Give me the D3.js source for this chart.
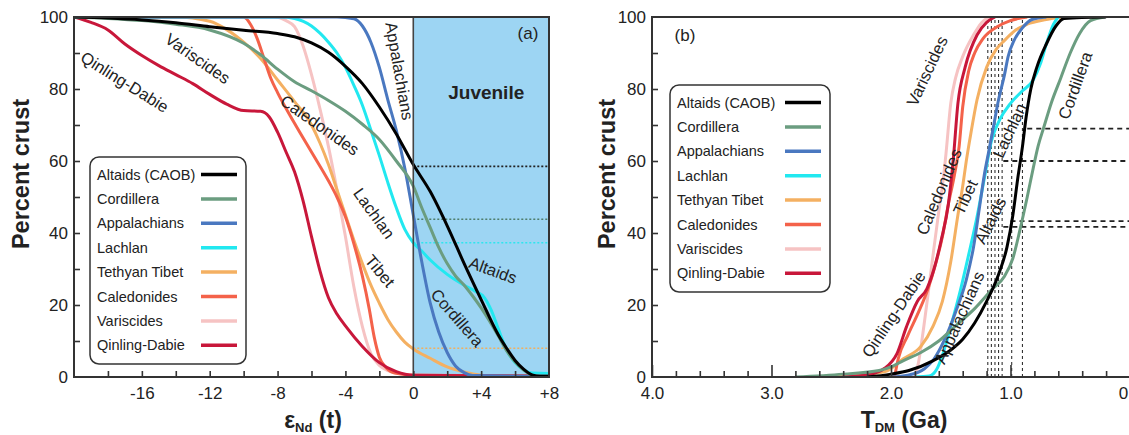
<!DOCTYPE html>
<html>
<head>
<meta charset="utf-8">
<script src="https://cdnjs.cloudflare.com/ajax/libs/d3/7.8.5/d3.min.js"></script>
<style>
  body { margin: 0; background: #fff; }
  text { font-family: "Liberation Sans", Arial, sans-serif; fill: #222; }
</style>
</head>
<body>
<script>
// series, in legend order
const names = ["Altaids (CAOB)", "Cordillera", "Appalachians", "Lachlan", "Tethyan Tibet", "Caledonides", "Variscides", "Qinling-Dabie"];
const colors = ["#000000", "#6b9d80", "#4a78c0", "#22e8f0", "#f4b062", "#f4624a", "#f6c3c3", "#c8173a"];

// panel (a): [eNd(t), percent crust]
const epsAltaids = [[-20,100],[-18,99.7],[-16,99.2],[-14,98.4],[-12,97.3],[-10,96.3],[-8,95.4],[-7,94.5],[-6,92.8],[-5,90.2],[-4,86.3],[-3,81.5],[-2,75],[-1,67.5],[0,59],[1,51.5],[2,42],[3,31.5],[4,21.5],[5,11.8],[5.5,8],[6,4.6],[6.5,2.2],[7,0.6],[7.5,0.2],[8,0.2]];
const epsCordillera = [[-20,100],[-18,99.6],[-16,99],[-14,98],[-12,96.4],[-10,92.7],[-9,89.5],[-8,85.5],[-7,82],[-6,79.5],[-5,76.8],[-4,73.8],[-3,70.2],[-2,66],[-1,60],[0,53],[0.5,47],[1,41.5],[1.5,36],[2,31.5],[2.5,28],[3,25.5],[3.5,22.5],[4,19.2],[4.5,15.5],[5,11.5],[5.5,7.3],[6,4.2],[6.5,1.9],[7,0.5],[7.3,0.2],[8,0.2]];
const epsAppalachians = [[-20,100],[-4.5,100],[-3.5,99.5],[-3,97.5],[-2.5,93],[-2,86],[-1.5,77],[-1,68.5],[-0.5,58],[0,45],[0.5,32],[1,20.5],[1.5,12.5],[2,6.8],[2.5,3],[3,1.2],[3.5,0.4],[8,0.2]];
const epsLachlan = [[-20,100],[-7.8,100],[-7,99.6],[-6,97.5],[-5.5,95.5],[-5,93],[-4.5,90],[-4,86],[-3.5,81],[-3,75.5],[-2.5,68.6],[-2,61.5],[-1.5,54],[-1,47],[-0.5,41],[0,37.3],[0.5,35],[1,32.5],[2,28.5],[3,25.5],[3.6,24],[4.2,22],[4.6,18.5],[5,13.5],[5.5,7.5],[6,4],[6.5,2],[7,1.1],[8,1]];
const epsTibet = [[-20,100],[-14,100],[-12,98.8],[-11,96.5],[-10,93],[-9,88.5],[-8,82.5],[-7,76.5],[-6,70],[-5.5,65],[-5,59],[-4.5,52],[-4,45],[-3.5,38],[-3,31.5],[-2.5,25.5],[-2,20.5],[-1.5,16],[-1,12.5],[-0.5,9.7],[0,7.8],[1,5.2],[2,2.8],[3,1.4],[4,0.5],[5,0.2],[8,0.2]];
const epsCaledonides = [[-20,100],[-10,100],[-9.6,98],[-9.2,94],[-8.8,88.5],[-8.4,83],[-8,79],[-7,70.5],[-6,62.5],[-5,54.5],[-4.5,50],[-4,44.5],[-3.5,37],[-3,28],[-2.6,19],[-2.3,11],[-2,5.5],[-1.6,2.6],[-1,1],[0,0.5],[8,0.3]];
const epsVariscides = [[-20,100],[-8.2,100],[-7.5,99],[-7,97.3],[-6.5,92],[-6,84],[-5.5,74.5],[-5,64],[-4.5,52],[-4,39],[-3.5,25],[-3,14],[-2.5,6.5],[-2,3.2],[-1.5,1.8],[-1,1],[0,0.5],[8,0.3]];
const epsQinling = [[-20,100],[-19,98.5],[-18,96.4],[-17,92.5],[-16,89.3],[-15,86.5],[-14,84],[-13,81.5],[-12,78.5],[-11,75.8],[-10,74],[-9,73.8],[-8.5,72.3],[-8,68],[-7.5,62.5],[-7,57],[-6.5,49],[-6,39],[-5.5,29.5],[-5,22],[-4.5,17.5],[-4,14.2],[-3,8.5],[-2,4],[-1,1.5],[0,0.5],[8,0.2]];

// panel (b): [T_DM in Ga, percent crust]
const tdmAltaids = [[2.2,0],[2.0,0.8],[1.85,1.8],[1.65,4.5],[1.5,7.5],[1.4,10.5],[1.3,15],[1.2,21],[1.1,28.5],[1.03,36],[0.98,45],[0.94,55],[0.9,64],[0.87,72],[0.83,80],[0.78,86],[0.7,92.5],[0.62,97.5],[0.55,99.6],[0.2,100]];
const tdmCordillera = [[2.8,0],[2.4,0.8],[2.1,1.8],[2.0,2.8],[1.9,4.5],[1.75,6.8],[1.6,10],[1.45,14.5],[1.3,19],[1.15,24.5],[1.05,28],[0.98,33],[0.92,41],[0.86,50],[0.81,58],[0.77,64],[0.72,69.5],[0.66,76],[0.58,83],[0.5,90],[0.42,95.5],[0.33,99],[0.21,100]];
const tdmAppalachians = [[2.0,0],[1.86,0.5],[1.72,2.3],[1.64,5],[1.55,10.5],[1.46,18],[1.37,27],[1.31,36],[1.26,47],[1.22,56],[1.18,63],[1.14,70],[1.1,77],[1.05,84],[1.02,89],[0.97,93.5],[0.9,97],[0.82,99.3],[0.7,100]];
const tdmLachlan = [[1.8,0],[1.68,0.3],[1.62,2],[1.57,6],[1.5,14],[1.42,24],[1.35,34],[1.28,44.5],[1.22,55],[1.16,65.5],[1.09,71.5],[1.0,76],[0.9,79.5],[0.81,82.5],[0.75,87],[0.7,92.5],[0.64,98],[0.6,100]];
const tdmTibet = [[2.62,0],[2.3,0.5],[2.05,1.5],[1.9,5],[1.75,8.5],[1.65,14],[1.57,21],[1.5,32],[1.44,45],[1.4,53],[1.37,60],[1.33,68],[1.28,77],[1.2,86],[1.12,91],[1.05,93.5],[0.95,96.5],[0.86,98],[0.7,99.3],[0.57,100]];
const tdmCaledonides = [[1.97,0],[1.94,5],[1.86,11.5],[1.77,18],[1.69,24.5],[1.63,31],[1.57,39],[1.52,48],[1.47,56],[1.43,64],[1.4,75],[1.35,85],[1.3,90],[1.23,94],[1.1,97.5],[1.0,99],[0.86,100]];
const tdmVariscides = [[1.8,0],[1.77,4],[1.74,10.5],[1.69,23],[1.64,36],[1.6,46],[1.57,53],[1.54,62],[1.5,76],[1.46,83],[1.4,89],[1.31,95],[1.24,98.5],[1.18,100]];
const tdmQinling = [[2.41,0],[2.2,0.6],[2.05,2.5],[1.95,6.5],[1.87,14],[1.78,21],[1.7,24.5],[1.64,30],[1.58,38],[1.52,48],[1.48,60],[1.44,76],[1.38,86],[1.28,95],[1.2,98.5],[1.13,100]];

const epsSeries = [epsAltaids, epsCordillera, epsAppalachians, epsLachlan, epsTibet, epsCaledonides, epsVariscides, epsQinling];
const tdmSeries = [tdmAltaids, tdmCordillera, tdmAppalachians, tdmLachlan, tdmTibet, tdmCaledonides, tdmVariscides, tdmQinling];
const drawOrder = [6, 4, 5, 7, 3, 2, 1, 0];

// reference levels
const juvenileLevels = [58.5, 43.8, 37.3, 8];
const juvenileLevelColors = ["#222", "#4f7d6c", "#2ee6ee", "#f0b060"];
const tdmMarks = [1.19, 1.16, 1.13, 1.1, 1.07, 0.99, 0.9];
const tdmLevels = [[69, 0.86], [60, 1.06], [43.3, 1.0], [41.7, 1.06]];

// curve labels: [text, x value, percent, angle]
const epsLabels = [["Qinling-Dabie", -17, 82, 32], ["Variscides", -12.7, 88.5, 35], ["Caledonides", -5.5, 70, 35],
  ["Appalachians", -0.8, 85, 80], ["Lachlan", -2.3, 45.5, 54], ["Tibet", -1.95, 29.5, 50],
  ["Altaids", 4.7, 29.7, 20], ["Cordillera", 2.6, 16.5, 49]];
const tdmLabels = [["Variscides", 1.7, 85, -65], ["Cordillera", 0.46, 81, -70], ["Lachlan", 1.01, 68.5, -65],
  ["Altaids", 1.17, 43.5, -63], ["Tibet", 1.38, 50, -65], ["Caledonides", 1.6, 51.5, -67],
  ["Appalachians", 1.43, 16.5, -66], ["Qinling-Dabie", 1.98, 17.5, -56]];

const W = 1129, H = 435;
const svg = d3.select("body").append("svg").attr("width", W).attr("height", H);

const yS = d3.scaleLinear().domain([0, 100]).range([377, 17]);
const xA = d3.scaleLinear().domain([-20, 8]).range([74, 549]);
const xB = d3.scaleLinear().domain([4, 0]).range([652, 1130]);

const defs = svg.append("defs");
defs.append("clipPath").attr("id", "clipA").append("rect")
  .attr("x", xA(-20)).attr("y", yS(100)).attr("width", xA(8) - xA(-20)).attr("height", yS(0) - yS(100));
defs.append("clipPath").attr("id", "clipB").append("rect")
  .attr("x", xB(4)).attr("y", yS(100)).attr("width", W - xB(4)).attr("height", yS(0) - yS(100));

function drawCurves(g, series, x) {
  const line = d3.line().x(d => x(d[0])).y(d => yS(d[1])).curve(d3.curveMonotoneX);
  drawOrder.forEach(i => {
    g.append("path").attr("d", line(series[i])).attr("fill", "none")
      .attr("stroke", colors[i]).attr("stroke-width", 3).attr("stroke-linejoin", "round");
  });
}

function drawLabels(g, labels, x) {
  labels.forEach(l => {
    g.append("text").attr("transform", `translate(${x(l[1])},${yS(l[2])}) rotate(${l[3]})`)
      .attr("text-anchor", "middle").attr("dominant-baseline", "central")
      .style("font-size", "16.5px").text(l[0]);
  });
}

function drawLegend(g, x0, y0, w) {
  g.append("rect").attr("x", x0).attr("y", y0).attr("width", w).attr("height", 207)
    .attr("rx", 9).attr("fill", "#fff").attr("stroke", "#333").attr("stroke-width", 1.5);
  names.forEach((n, i) => {
    const y = y0 + 17.5 + i * 24.4;
    g.append("text").attr("x", x0 + 7).attr("y", y).attr("dominant-baseline", "central")
      .style("font-size", "14.5px").text(n);
    g.append("line").attr("x1", x0 + w - 45).attr("x2", x0 + w - 9).attr("y1", y).attr("y2", y)
      .attr("stroke", colors[i]).attr("stroke-width", 3.5);
  });
}

function styleAxis(g) {
  g.select(".domain").remove();
  g.selectAll(".tick line").attr("stroke", "#333").attr("stroke-width", 1.6);
  g.selectAll(".tick text").style("font-size", "17px").attr("fill", "#222");
}

// ---------- panel (a)
const gA = svg.append("g");
gA.append("rect").attr("x", xA(0)).attr("y", yS(100)).attr("width", xA(8) - xA(0)).attr("height", yS(0) - yS(100))
  .attr("fill", "#9dd5f3");
juvenileLevels.forEach((v, i) => {
  gA.append("line").attr("x1", xA(0)).attr("x2", xA(8)).attr("y1", yS(v)).attr("y2", yS(v))
    .attr("stroke", juvenileLevelColors[i]).attr("stroke-width", 1.6).attr("stroke-dasharray", "2,2");
});
drawCurves(gA.append("g").attr("clip-path", "url(#clipA)"), epsSeries, xA);
gA.append("line").attr("x1", xA(0)).attr("x2", xA(0)).attr("y1", yS(0)).attr("y2", yS(100))
  .attr("stroke", "#444").attr("stroke-width", 1.6);

gA.append("g").attr("transform", `translate(0,${yS(0)})`)
  .call(d3.axisBottom(xA).tickValues(d3.range(-18, 8, 2)).tickSize(-6).tickFormat(""))
  .call(styleAxis);
gA.append("g").attr("transform", `translate(0,${yS(0)})`)
  .call(d3.axisBottom(xA).tickValues([-16, -12, -8, -4, 0, 4, 8]).tickSize(0).tickPadding(10)
    .tickFormat(d => d > 0 ? "+" + d : d))
  .call(styleAxis);
gA.append("g").attr("transform", `translate(${xA(-20)},0)`)
  .call(d3.axisLeft(yS).tickValues(d3.range(10, 100, 10)).tickSize(-6).tickFormat(""))
  .call(styleAxis);
gA.append("g").attr("transform", `translate(${xA(-20)},0)`)
  .call(d3.axisLeft(yS).tickValues(d3.range(0, 101, 20)).tickSize(0).tickPadding(6))
  .call(styleAxis);
gA.append("rect").attr("x", xA(-20)).attr("y", yS(100)).attr("width", xA(8) - xA(-20)).attr("height", yS(0) - yS(100))
  .attr("fill", "none").attr("stroke", "#333").attr("stroke-width", 2);

drawLabels(gA, epsLabels, xA);
gA.append("text").attr("x", xA(4.3)).attr("y", 99).attr("text-anchor", "middle")
  .style("font-size", "19px").style("font-weight", "bold").attr("fill", "#333").text("Juvenile");
gA.append("text").attr("x", 528).attr("y", 39).attr("text-anchor", "middle").style("font-size", "17px").text("(a)");
drawLegend(gA, 90, 157, 156);

const tA = gA.append("text").attr("x", 313).attr("y", 428).attr("text-anchor", "middle")
  .style("font-size", "23px").style("font-weight", "bold");
tA.append("tspan").text("ε");
tA.append("tspan").attr("dy", 4).style("font-size", "13px").text("Nd");
tA.append("tspan").attr("dy", -4).text(" (t)");
gA.append("text").attr("transform", "translate(21,174) rotate(-90)").attr("text-anchor", "middle")
  .attr("dominant-baseline", "central").style("font-size", "23.5px").style("font-weight", "bold").text("Percent crust");

// ---------- panel (b)
const gB = svg.append("g");
tdmMarks.forEach(t => {
  gB.append("line").attr("x1", xB(t)).attr("x2", xB(t)).attr("y1", yS(0)).attr("y2", yS(100))
    .attr("stroke", "#333").attr("stroke-width", 1.1).attr("stroke-dasharray", "3,3");
});
tdmLevels.forEach(l => {
  gB.append("line").attr("x1", xB(l[1])).attr("x2", W).attr("y1", yS(l[0])).attr("y2", yS(l[0]))
    .attr("stroke", "#222").attr("stroke-width", 1.8).attr("stroke-dasharray", "5,4");
});
drawCurves(gB.append("g").attr("clip-path", "url(#clipB)"), tdmSeries, xB);

gB.append("g").attr("transform", `translate(0,${yS(0)})`)
  .call(d3.axisBottom(xB).tickValues(d3.range(1, 20).map(i => i / 5).filter(v => v % 1 !== 0)).tickSize(-6).tickFormat(""))
  .call(styleAxis);
gB.append("g").attr("transform", `translate(0,${yS(0)})`)
  .call(d3.axisBottom(xB).tickValues([4, 3, 2, 1, 0]).tickSize(-12).tickPadding(10).tickFormat(d3.format(".1f")))
  .call(styleAxis);
gB.append("g").attr("transform", `translate(${xB(4)},0)`)
  .call(d3.axisLeft(yS).tickValues(d3.range(10, 100, 10)).tickSize(-6).tickFormat(""))
  .call(styleAxis);
gB.append("g").attr("transform", `translate(${xB(4)},0)`)
  .call(d3.axisLeft(yS).tickValues(d3.range(0, 101, 20)).tickSize(0).tickPadding(6))
  .call(styleAxis);
gB.append("rect").attr("x", xB(4)).attr("y", yS(100)).attr("width", W + 20 - xB(4)).attr("height", yS(0) - yS(100))
  .attr("fill", "none").attr("stroke", "#333").attr("stroke-width", 2);

drawLabels(gB, tdmLabels, xB);
gB.append("text").attr("x", 685).attr("y", 41).attr("text-anchor", "middle").style("font-size", "17px").text("(b)");
drawLegend(gB, 670, 85, 160);

const tB = gB.append("text").attr("x", 904).attr("y", 428).attr("text-anchor", "middle")
  .style("font-size", "23px").style("font-weight", "bold");
tB.append("tspan").text("T");
tB.append("tspan").attr("dy", 4).style("font-size", "13px").text("DM");
tB.append("tspan").attr("dy", -4).text(" (Ga)");
gB.append("text").attr("transform", "translate(607,174) rotate(-90)").attr("text-anchor", "middle")
  .attr("dominant-baseline", "central").style("font-size", "23.5px").style("font-weight", "bold").text("Percent crust");
</script>
</body>
</html>
